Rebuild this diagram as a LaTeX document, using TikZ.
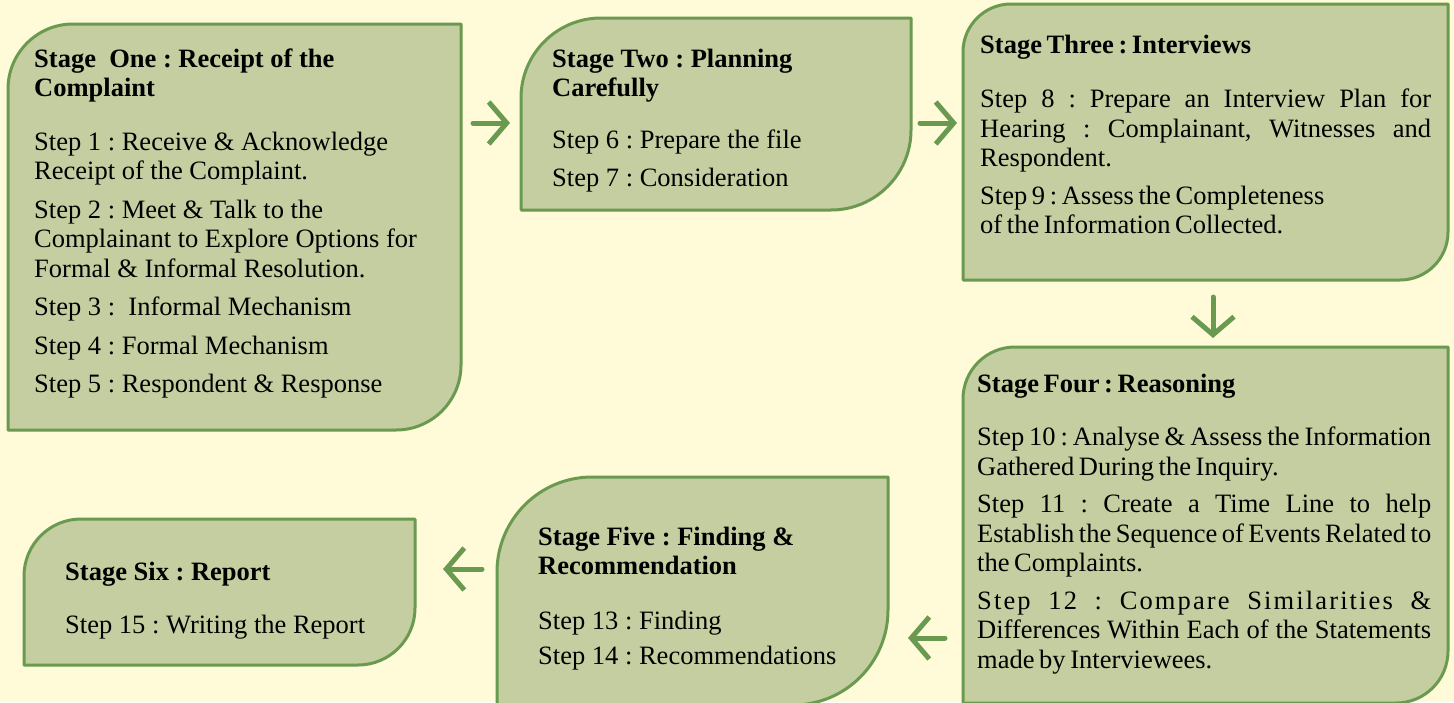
\documentclass[tikz,border=0pt]{standalone}
\usepackage{fontspec}
\setmainfont{Liberation Serif}
\newfontfamily\tightfont[WordSpace=0.7]{Liberation Serif}
\frenchspacing
\usetikzlibrary{arrows.meta}

\definecolor{paper}{RGB}{255,251,217}
\definecolor{leaffill}{RGB}{197,206,161}
\definecolor{leafline}{RGB}{106,154,80}

% leaf outline around a box node: #1 node, #2 corner radius
\newcommand\leafshape[2]{%
  \draw[leaf] (#1.south west) -- ([yshift=-#2]#1.north west)
    arc[start angle=180, end angle=90, radius=#2] -- (#1.north east)
    -- ([yshift=#2]#1.south east)
    arc[start angle=0, end angle=-90, radius=#2] -- cycle;}

\begin{document}
\begin{tikzpicture}[x=1pt, y=1pt,
  leaf/.style={draw=leafline, fill=leaffill, line width=3pt, line join=round},
  stagebox/.style={rectangle, inner sep=0pt, outer sep=0pt, anchor=north west},
  steps/.style={anchor=base west, inner sep=0pt, align=left, text width=#1,
    font=\fontsize{26.5}{29.5}\selectfont,
    execute at begin node={\spaceskip=0pt \xspaceskip=0pt}},
  flow/.style={draw=leafline, line width=5pt, line cap=round,
    -{Straight Barb[length=18pt, width=42pt]}}]
  \clip (0,0) rectangle (1454,-702);
  \fill[paper] (0,0) rectangle (1454,-702);

  % the six stages
  \node[stagebox, minimum width=453pt, minimum height=406pt] (one) at (8,-24) {};
  \node[stagebox, minimum width=390pt, minimum height=192pt] (two) at (521,-18) {};
  \node[stagebox, minimum width=485pt, minimum height=276pt] (three) at (963,-4) {};
  \node[stagebox, minimum width=485pt, minimum height=356pt] (four) at (963,-347) {};
  \node[stagebox, minimum width=391pt, minimum height=228pt] (five) at (497,-477) {};
  \node[stagebox, minimum width=391pt, minimum height=146pt] (six) at (24,-519) {};

  \leafshape{one}{65}
  \leafshape{two}{80}
  \leafshape{three}{48}
  \leafshape{four}{52}
  \leafshape{five}{95}
  \leafshape{six}{57}

  \node[steps=420pt] (one-text) at (34,-67) {%
    \textbf{Stage\ \ One : Receipt of the\\ Complaint}\\[24pt]
    Step 1 : Receive \& Acknowledge\\ Receipt of the Complaint.\\[9pt]
    Step 2 : Meet \& Talk to the\\ Complainant to Explore Options for\\
    Formal \& Informal Resolution.\\[9pt]
    Step 3 :\ \ Informal Mechanism\\[9pt]
    Step 4 : Formal Mechanism\\[9pt]
    Step 5 : Respondent \& Response};

  \node[steps=340pt] (two-text) at (552,-67) {%
    \textbf{Stage Two : Planning\\ Carefully}\\[22pt]
    Step 6 : Prepare the file\\[9pt]
    Step 7 : Consideration};

  \node[steps=451pt, font=\fontsize{26.5}{29.5}\tightfont] (three-text) at (980,-53) {%
    \textbf{Stage Three : Interviews}\\[25pt]
    \makebox[451pt][s]{Step 8 : Prepare an Interview Plan for}\\
    \makebox[451pt][s]{Hearing : Complainant, Witnesses and}\\
    Respondent.\\[8pt]
    Step 9 : Assess the Completeness\\ of the Information Collected.};

  \node[steps=454pt, font=\fontsize{26.5}{29.5}\tightfont] (four-text) at (977,-392) {%
    \textbf{Stage Four : Reasoning}\\[24pt]
    \makebox[454pt][s]{Step 10 : Analyse \& Assess the Information}\\
    Gathered During the Inquiry.\\[8pt]
    \makebox[454pt][s]{Step 11 : Create a Time Line to help}\\
    \makebox[454pt][s]{Establish the Sequence of Events Related to}\\
    the Complaints.\\[8pt]
    \makebox[454pt][s]{\addfontfeature{LetterSpace=8}Step 12 : Compare Similarities \&}\\
    \makebox[454pt][s]{Differences Within Each of the Statements}\\
    made by Interviewees.};

  \node[steps=330pt] (five-text) at (538,-545) {%
    \textbf{Stage Five : Finding \&\\ Recommendation}\\[25pt]
    Step 13 : Finding\\[6pt]
    Step 14 : Recommendations};

  \node[steps=330pt] (six-text) at (65,-580) {%
    \textbf{Stage Six : Report}\\[24pt]
    Step 15 : Writing the Report};

  % arrows between the stages
  \coordinate (toprow) at (0,-123);
  \coordinate (turn) at (1213,0);
  \coordinate (midrow) at (0,-638);
  \coordinate (lowrow) at (0,-569);
  \draw[flow, shorten <=12pt, shorten >=11pt] (one.east |- toprow) -- (two.west |- toprow);
  \draw[flow, shorten <=9pt, shorten >=6pt] (two.east |- toprow) -- (three.west |- toprow);
  \draw[flow, shorten <=17pt, shorten >=9pt] (three.south -| turn) -- (four.north -| turn);
  \draw[flow, shorten <=18pt, shorten >=20pt] (four.west |- midrow) -- (five.east |- midrow);
  \draw[flow, shorten <=15pt, shorten >=28pt] (five.west |- lowrow) -- (six.east |- lowrow);
\end{tikzpicture}
\end{document}
